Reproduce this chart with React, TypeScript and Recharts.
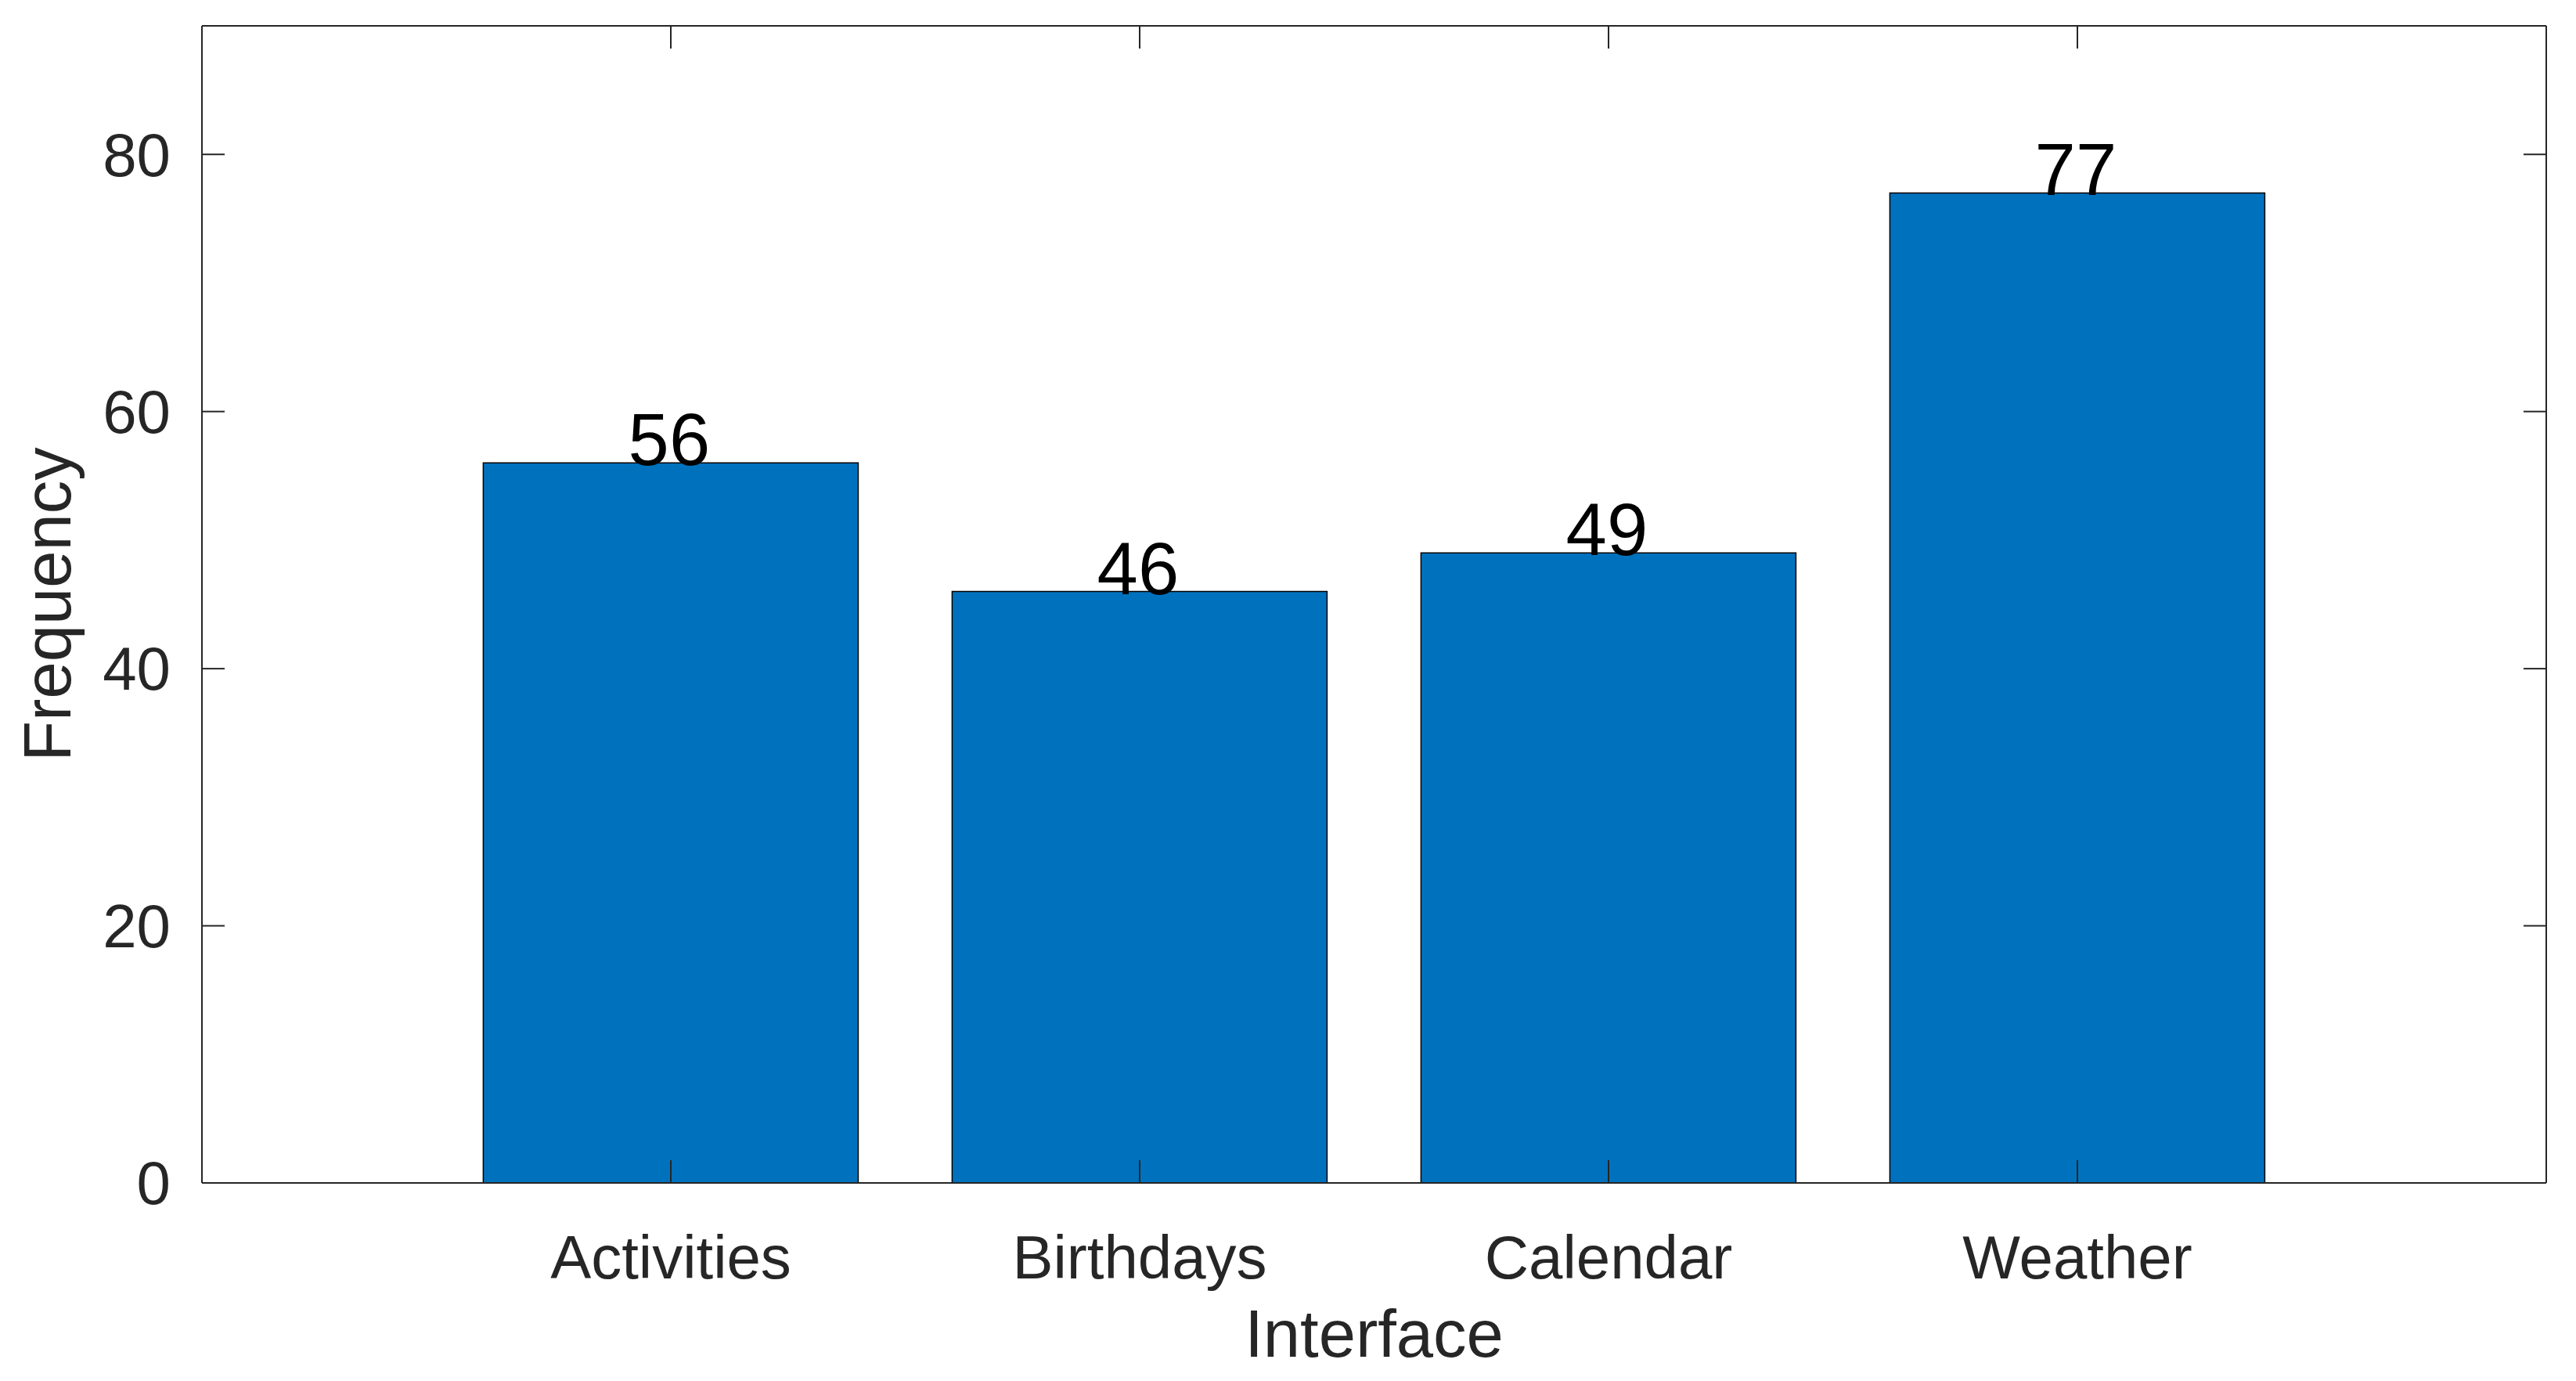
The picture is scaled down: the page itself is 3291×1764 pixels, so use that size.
import React from 'react';
import { BarChart, Bar, XAxis, YAxis, LabelList, Label } from 'recharts';

// values
const categories = ['Activities', 'Birthdays', 'Calendar', 'Weather'];
const frequencies = [56, 46, 49, 77];
const yTicks = [0, 20, 40, 60, 80];
const yDomain = [0, 90];

const data = categories.map((name, i) => ({ name, freq: frequencies[i] }));

const FONT = '"Liberation Sans", Arial, Helvetica, sans-serif';
const AXIS = '#262626';
const BAR_FILL = '#0072BD';
const TICK_LEN = 29;

// ticks drawn inward like MATLAB's default box axes
const BottomTick = ({ x, y, payload }: any) => (
  <g>
    <line x1={x} y1={y} x2={x} y2={y - TICK_LEN} stroke={AXIS} strokeWidth={2} />
    <text x={x} y={y + 122} textAnchor="middle" fontSize={78} fontFamily={FONT} fill={AXIS}>
      {payload.value}
    </text>
  </g>
);

const TopTick = ({ x, y }: any) => (
  <line x1={x} y1={y} x2={x} y2={y + TICK_LEN} stroke={AXIS} strokeWidth={2} />
);

const LeftTick = ({ x, y, payload }: any) => (
  <g>
    <line x1={x} y1={y} x2={x + TICK_LEN} y2={y} stroke={AXIS} strokeWidth={2} />
    <text x={x - 40} y={y} dy="0.35em" textAnchor="end" fontSize={78} fontFamily={FONT} fill={AXIS}>
      {payload.value}
    </text>
  </g>
);

const RightTick = ({ x, y }: any) => (
  <line x1={x} y1={y} x2={x - TICK_LEN} y2={y} stroke={AXIS} strokeWidth={2} />
);

const ValueLabel = ({ x, y, width, value }: any) => (
  <text x={x + width / 2 - 2} y={y + 3} textAnchor="middle" fontSize={94} fontFamily={FONT} fill="#000000">
    {value}
  </text>
);

export default function App() {
  return (
    <div style={{ position: 'absolute', left: 0, top: 0, background: '#ffffff' }}>
      <BarChart
        width={3291}
        height={1764}
        data={data}
        margin={{ top: 32, right: 37, bottom: 0, left: 0 }}
        barCategoryGap="10%"
      >
        <Bar
          dataKey="freq"
          xAxisId="bottom"
          yAxisId="left"
          fill={BAR_FILL}
          stroke="#000000"
          strokeWidth={1.5}
          isAnimationActive={false}
        >
          <LabelList dataKey="freq" content={<ValueLabel />} />
        </Bar>

        <XAxis
          xAxisId="bottom"
          dataKey="name"
          type="category"
          orientation="bottom"
          height={253}
          padding={{ left: 299.5, right: 299.5 }}
          axisLine={{ stroke: AXIS, strokeWidth: 2 }}
          tickLine={false}
          tickSize={0}
          tickMargin={0}
          interval={0}
          tick={<BottomTick />}
        >
          <Label
            content={(props: any) => {
              const vb = props.viewBox;
              return (
                <text x={vb.x + vb.width / 2} y={vb.y + 222} textAnchor="middle" fontSize={85} fontFamily={FONT} fill={AXIS}>
                  Interface
                </text>
              );
            }}
          />
        </XAxis>
        <XAxis
          xAxisId="top"
          dataKey="name"
          type="category"
          orientation="top"
          height={1}
          padding={{ left: 299.5, right: 299.5 }}
          axisLine={{ stroke: AXIS, strokeWidth: 2 }}
          tickLine={false}
          tickSize={0}
          tickMargin={0}
          interval={0}
          tick={<TopTick />}
        />

        <YAxis
          yAxisId="left"
          orientation="left"
          width={258}
          domain={yDomain}
          ticks={yTicks}
          type="number"
          allowDataOverflow
          axisLine={{ stroke: AXIS, strokeWidth: 2 }}
          tickLine={false}
          tickSize={0}
          tickMargin={0}
          interval={0}
          tick={<LeftTick />}
        >
          <Label
            content={(props: any) => {
              const vb = props.viewBox;
              const cx = vb.x + 90;
              const cy = vb.y + vb.height / 2;
              return (
                <text x={cx} y={cy} transform={`rotate(-90, ${cx}, ${cy})`} textAnchor="middle" fontSize={85} fontFamily={FONT} fill={AXIS}>
                  Frequency
                </text>
              );
            }}
          />
        </YAxis>
        <YAxis
          yAxisId="right"
          orientation="right"
          width={1}
          domain={yDomain}
          ticks={yTicks}
          type="number"
          allowDataOverflow
          axisLine={{ stroke: AXIS, strokeWidth: 2 }}
          tickLine={false}
          tickSize={0}
          tickMargin={0}
          interval={0}
          tick={<RightTick />}
        />
      </BarChart>
    </div>
  );
}
